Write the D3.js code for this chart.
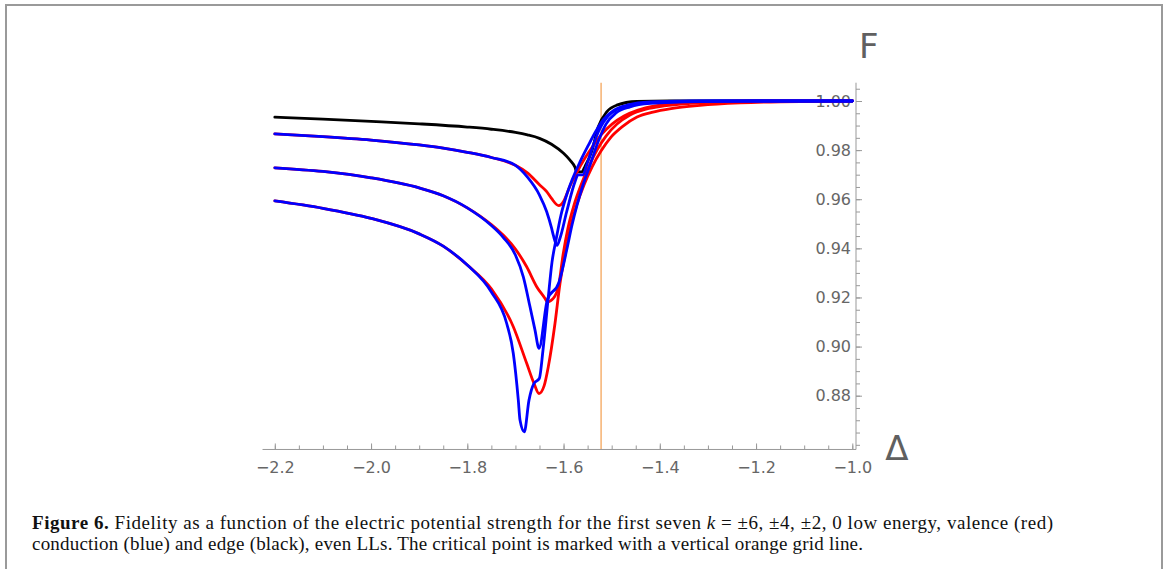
<!DOCTYPE html>
<html>
<head>
<meta charset="utf-8">
<script src="https://cdn.jsdelivr.net/npm/d3@7"></script>
<style>
  html, body { margin: 0; padding: 0; background: #fff; }
  svg { display: block; }
</style>
</head>
<body>
<div id="chart"></div>
<script>
// tick labels
const xTicks = [-2.2, -2.0, -1.8, -1.6, -1.4, -1.2, -1.0];
const yTicks = [0.88, 0.90, 0.92, 0.94, 0.96, 0.98, 1.00];
const criticalDelta = -1.522;

// series: [delta, fidelity]
const edge = [[-2.2,0.9934],[-2.1,0.9926],[-2.0,0.9917],[-1.9,0.9907],[-1.8,0.9894],[-1.75,0.9885],
  [-1.7,0.9872],[-1.675,0.9862],[-1.65,0.9848],[-1.625,0.9824],[-1.6,0.9787],[-1.5866,0.9759],
  [-1.5762,0.9730],[-1.5727,0.9711],[-1.5623,0.9711],[-1.5554,0.9734],[-1.5415,0.9795],
  [-1.5278,0.9895],[-1.5103,0.9956],[-1.4896,0.9983],[-1.448,0.9998],[-1.38,1.0],[-1.0,1.0]];

const valence1 = [[-2.2,0.9866],[-2.1,0.9855],[-2.0,0.9841],[-1.9,0.9821],[-1.85,0.9808],[-1.8,0.9791],
  [-1.75,0.9770],[-1.7,0.9738],[-1.675,0.9707],[-1.65,0.9659],[-1.635,0.9631],[-1.625,0.9603],[-1.610,0.9574],
  [-1.6005,0.9590],[-1.5866,0.9654],[-1.5720,0.9711],[-1.5554,0.9768],[-1.5388,0.9817],[-1.5201,0.9866],
  [-1.4993,0.9906],[-1.4743,0.9939],[-1.4453,0.9963],[-1.41,0.9980],[-1.3684,0.9990],[-1.2956,0.9997],
  [-1.1917,1.0],[-1.0,1.0]];

const conduction1 = [[-2.2,0.9866],[-2.1,0.9855],[-2.0,0.9841],[-1.9,0.9821],[-1.85,0.9808],[-1.8,0.9791],
  [-1.75,0.9770],[-1.7,0.9738],[-1.675,0.9690],[-1.65,0.9617],[-1.635,0.9549],[-1.625,0.9483],
  [-1.6213,0.9454],[-1.6136,0.9412],[-1.6074,0.9441],[-1.5935,0.9549],[-1.5762,0.9671],[-1.5700,0.9699],
  [-1.5596,0.9699],[-1.5519,0.9739],[-1.5382,0.9821],[-1.5242,0.9889],[-1.5076,0.9939],[-1.4868,0.9967],
  [-1.4577,0.9984],[-1.3996,0.9996],[-1.2748,1.0],[-1.0,1.0]];

const valence2 = [[-2.2,0.9728],[-2.1,0.9713],[-2.0,0.9687],[-1.9,0.9646],[-1.85,0.9614],[-1.8,0.9565],
  [-1.75,0.9497],[-1.725,0.9453],[-1.7,0.9397],[-1.6766,0.9325],[-1.6558,0.9244],[-1.6385,0.9196],
  [-1.6338,0.9182],[-1.6213,0.9196],[-1.6094,0.9257],[-1.6011,0.9373],[-1.5908,0.9483],[-1.5783,0.9576],
  [-1.5637,0.9658],[-1.5471,0.9735],[-1.5305,0.9800],[-1.5118,0.9857],[-1.4889,0.9906],[-1.4619,0.9943],
  [-1.4286,0.9967],[-1.3913,0.9980],[-1.3372,0.9990],[-1.254,0.9996],[-1.15,0.9999],[-1.0,1.0]];

const conduction2 = [[-2.2,0.9728],[-2.1,0.9713],[-2.0,0.9687],[-1.9,0.9646],[-1.85,0.9614],[-1.8,0.9565],
  [-1.75,0.9493],[-1.725,0.9444],[-1.7,0.9373],[-1.6836,0.9284],[-1.6697,0.9162],[-1.6593,0.9067],
  [-1.6510,0.8993],[-1.6338,0.9189],[-1.6094,0.9262],[-1.5935,0.9393],[-1.5824,0.9495],[-1.5720,0.9576],
  [-1.5596,0.9658],[-1.545,0.9739],[-1.5284,0.9833],[-1.5118,0.9906],[-1.491,0.9951],[-1.4619,0.9976],
  [-1.4203,0.9990],[-1.3164,0.9998],[-1.2,1.0],[-1.0,1.0]];

const valence3 = [[-2.2,0.9593],[-2.1,0.9563],[-2.0,0.9522],[-1.9,0.9459],[-1.85,0.9409],[-1.8,0.9332],
  [-1.75,0.9235],[-1.7044,0.9081],[-1.6766,0.8932],[-1.6614,0.8850],[-1.6510,0.8809],
  [-1.6406,0.8839],[-1.6317,0.8918],[-1.6178,0.9094],[-1.6074,0.9257],[-1.5949,0.9393],[-1.5845,0.9495],
  [-1.5720,0.9580],[-1.5575,0.9658],[-1.5409,0.9731],[-1.5222,0.9796],[-1.5014,0.9853],[-1.4764,0.9898],
  [-1.4473,0.9935],[-1.4141,0.9955],[-1.3767,0.9969],[-1.3164,0.9982],[-1.2332,0.9992],[-1.1501,0.9997],
  [-1.067,0.9999],[-1.0,1.0]];

const conduction3 = [[-2.2,0.9593],[-2.1,0.9563],[-2.0,0.9522],[-1.9,0.9459],[-1.85,0.9409],[-1.8,0.9332],
  [-1.75,0.9222],[-1.7181,0.9094],[-1.7044,0.8972],[-1.6940,0.8782],[-1.6905,0.8701],
  [-1.6816,0.8653],[-1.6718,0.8782],[-1.6614,0.8850],[-1.6504,0.8870],[-1.6427,0.8986],[-1.6323,0.9189],
  [-1.6240,0.9344],[-1.6157,0.9434],[-1.6053,0.9536],[-1.5949,0.9609],[-1.5824,0.9678],[-1.5658,0.9752],
  [-1.5492,0.9817],[-1.5326,0.9878],[-1.5159,0.9927],[-1.4951,0.9963],[-1.4660,0.9984],[-1.4203,0.9996],
  [-1.3164,1.0],[-1.0,1.0]];

const W = 1168, H = 569;

const svg = d3.select("#chart").append("svg")
    .attr("width", W)
    .attr("height", H)
    .style("background", "#fff");

// figure frame (top, left, right)
svg.append("path")
    .attr("d", `M6,${H} L6,5 L1162,5 L1162,${H}`)
    .attr("fill", "none")
    .attr("stroke", "#9a9a9a")
    .attr("stroke-width", 2);

const x = d3.scaleLinear().domain([-2.2, -1.0]).range([274.8, 852.3]);
const y = d3.scaleLinear().domain([0.88, 1.0]).range([395.7, 101]);

const xAxisAt = 0.8581;   // F where the Δ axis sits
const yAxisAt = -0.9923;  // Δ where the F axis sits

const axisColor = "#999";
const labelColor = "#666";
const tickFont = "DejaVu Sans";

// critical point
svg.append("line")
    .attr("x1", x(criticalDelta)).attr("x2", x(criticalDelta))
    .attr("y1", y(1.00745)).attr("y2", y(xAxisAt))
    .attr("stroke", "#f4a55a")
    .attr("stroke-width", 1.3);

// x axis: minor ticks, then major ticks with labels
const gxMinor = svg.append("g").attr("transform", `translate(0,${y(xAxisAt)})`);
gxMinor.call(d3.axisBottom(x).tickValues(d3.range(-2.2, -0.999, 0.05)).tickFormat("")
    .tickSizeInner(-4).tickSizeOuter(0));
const gx = svg.append("g").attr("transform", `translate(0,${y(xAxisAt)})`);
gx.call(d3.axisBottom(x).tickValues(xTicks).tickFormat(d3.format(".1f"))
    .tickSizeInner(-6).tickSizeOuter(0).tickPadding(12.5));
gx.append("line")
    .attr("x1", x(-2.2255)).attr("x2", x(yAxisAt))
    .attr("stroke", axisColor);

// y axis
const gyMinor = svg.append("g").attr("transform", `translate(${x(yAxisAt)},0)`);
gyMinor.call(d3.axisLeft(y).tickValues(d3.range(0.86, 1.0055, 0.005)).tickFormat("")
    .tickSizeInner(-4).tickSizeOuter(0));
const gy = svg.append("g").attr("transform", `translate(${x(yAxisAt)},0)`);
gy.call(d3.axisLeft(y).tickValues(yTicks).tickFormat(d3.format(".2f"))
    .tickSizeInner(-6).tickSizeOuter(0).tickPadding(5));
gy.append("line")
    .attr("y1", y(1.00745)).attr("y2", y(xAxisAt))
    .attr("stroke", axisColor);

svg.selectAll(".domain").remove();
svg.selectAll(".tick line").attr("stroke", axisColor);
svg.selectAll(".tick text")
    .attr("fill", labelColor)
    .style("font-family", tickFont)
    .style("font-size", "16px");

// axis names
svg.append("text")
    .attr("x", 859).attr("y", 58)
    .style("font-family", tickFont)
    .style("font-size", "34px")
    .attr("fill", "#606060")
    .text("F");

svg.append("text")
    .attr("x", 897).attr("y", 460)
    .attr("text-anchor", "middle")
    .style("font-family", tickFont)
    .style("font-size", "34px")
    .attr("fill", "#606060")
    .text("Δ");

// curves
const line = d3.line()
    .x(d => x(d[0]))
    .y(d => y(d[1]))
    .curve(d3.curveMonotoneX);

const series = [
    { data: edge, color: "#000" },
    { data: valence1, color: "#ff0000" },
    { data: valence2, color: "#ff0000" },
    { data: valence3, color: "#ff0000" },
    { data: conduction1, color: "#0000ff" },
    { data: conduction2, color: "#0000ff" },
    { data: conduction3, color: "#0000ff" }
];

svg.append("g").selectAll("path")
    .data(series)
    .enter()
    .append("path")
    .attr("d", d => line(d.data))
    .attr("fill", "none")
    .attr("stroke", d => d.color)
    .attr("stroke-width", 2.8)
    .attr("stroke-linejoin", "round")
    .attr("stroke-linecap", "round");

// caption
const cap = svg.append("g")
    .style("font-family", "'Liberation Serif', 'Times New Roman', serif")
    .style("font-size", "19px")
    .attr("fill", "#111");

const line1 = cap.append("text")
    .attr("x", 32).attr("y", 529)
    .attr("textLength", 1021)
    .attr("lengthAdjust", "spacing");
line1.append("tspan").style("font-weight", "bold").text("Figure 6.");
line1.append("tspan").text(" Fidelity as a function of the electric potential strength for the first seven ");
line1.append("tspan").style("font-style", "italic").text("k");
line1.append("tspan").text(" = ±6, ±4, ±2, 0 low energy, valence (red)");

cap.append("text")
    .attr("x", 32).attr("y", 550)
    .attr("textLength", 831)
    .attr("lengthAdjust", "spacing")
    .text("conduction (blue) and edge (black), even LLs. The critical point is marked with a vertical orange grid line.");
</script>
</body>
</html>
